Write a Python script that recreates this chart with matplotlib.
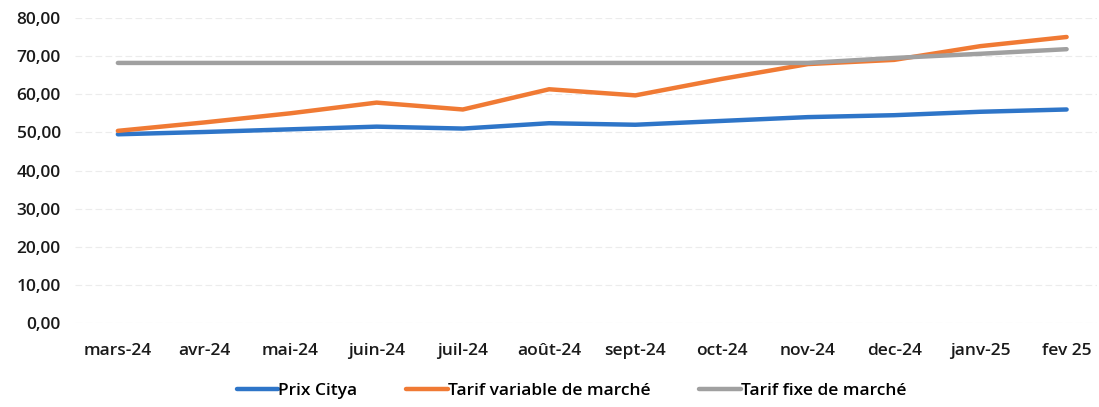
import matplotlib
matplotlib.use("Agg")
import matplotlib.pyplot as plt
from matplotlib.ticker import FuncFormatter

months = ["mars-24", "avr-24", "mai-24", "juin-24", "juil-24", "août-24",
          "sept-24", "oct-24", "nov-24", "dec-24", "janv-25", "fev 25"]
prix_citya = [49.5, 50.1, 50.8, 51.5, 51.0, 52.4, 52.0, 53.0, 54.0, 54.5, 55.4, 56.0]
tarif_variable = [50.4, 52.6, 55.0, 57.8, 56.0, 61.3, 59.7, 64.0, 67.9, 69.0, 72.6, 75.0]
tarif_fixe = [68.2, 68.2, 68.2, 68.2, 68.2, 68.2, 68.2, 68.2, 68.2, 69.5, 70.6, 71.8]

plt.rcParams['font.family'] = ['Open Sans', 'DejaVu Sans']
plt.rcParams['font.weight'] = 'semibold'

fig = plt.figure(figsize=(10.99, 4.07), dpi=100)
ax = fig.add_axes([0.068, 0.206, 0.93, 0.75])

x = list(range(len(months)))
ax.plot(x, prix_citya, color='#2E75C8', lw=3.2, label='Prix Citya', solid_capstyle='round')
ax.plot(x, tarif_variable, color='#F07A34', lw=3.2, label='Tarif variable de marché', solid_capstyle='round')
ax.plot(x, tarif_fixe, color='#A0A0A0', lw=3.2, label='Tarif fixe de marché', solid_capstyle='round')

ax.set_ylim(0, 80)
ax.set_yticks(range(0, 81, 10))
ax.yaxis.set_major_formatter(FuncFormatter(lambda v, p: f"{v:.2f}".replace('.', ',')))
ax.set_xlim(-0.5, 11.35)
ax.set_xticks(x)
ax.set_xticklabels(months)
ax.tick_params(axis='both', length=0, labelsize=12.5, colors='#1a1a1a')
ax.tick_params(axis='x', pad=14)
ax.tick_params(axis='y', pad=10)
ax.grid(axis='y', color='#ececec', lw=0.8, ls=(0, (6, 3)))
ax.set_axisbelow(True)
for s in ax.spines.values():
    s.set_visible(False)

fig.legend(loc='center', bbox_to_anchor=(0.52, 0.04), ncol=3, frameon=False,
           fontsize=12.5, handlelength=2.4, handletextpad=0.0, columnspacing=2.8)

fig.savefig('out.png', dpi=100)
